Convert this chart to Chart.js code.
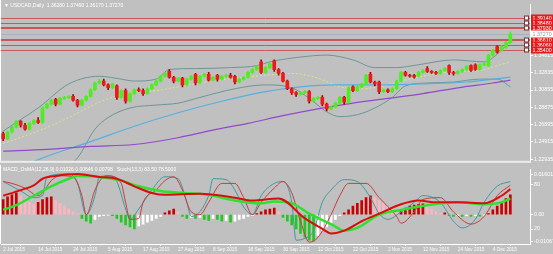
<!DOCTYPE html>
<html>
<head>
<meta charset="utf-8">
<script src="https://cdn.jsdelivr.net/npm/chart.js@4.4.1/dist/chart.umd.min.js"></script>
<style>
  html, body { margin: 0; padding: 0; background: #c0c0c0; }
  body { width: 553px; height: 254px; position: relative; overflow: hidden; }
  canvas { position: absolute; left: 0; }
  #main { top: 0; }
  #osc { top: 165px; }
</style>
</head>
<body>
<canvas id="main" width="553" height="165"></canvas>
<canvas id="osc" width="553" height="89"></canvas>
<script>
// ---- data ----
const symbolTitle = 'USDCAD,Daily';

const opens = [
  1.2583, 1.2528, 1.2605, 1.2660, 1.2726, 1.2682, 1.2638, 1.2704, 1.2737, 1.2715,
  1.2880, 1.2924, 1.2979, 1.2924, 1.2990, 1.3001, 1.3012, 1.2968, 1.2913, 1.2968,
  1.3012, 1.3089, 1.3166, 1.3188, 1.3144, 1.3111, 1.3133, 1.3001, 1.3078, 1.2957,
  1.3045, 1.3089, 1.3078, 1.3045, 1.3100, 1.3144, 1.3188, 1.3243, 1.3298, 1.3232,
  1.3188, 1.3221, 1.3144, 1.3210, 1.3265, 1.3166, 1.3243, 1.3265, 1.3199, 1.3254,
  1.3210, 1.3243, 1.3254, 1.3243, 1.3177, 1.3210, 1.3232, 1.3287, 1.3320, 1.3408,
  1.3287, 1.3342, 1.3419, 1.3320, 1.3276, 1.3188, 1.3100, 1.3056, 1.3034, 1.3056,
  1.3067, 1.2957, 1.2990, 1.3001, 1.2924, 1.2869, 1.2891, 1.2935, 1.3001, 1.2946,
  1.3122, 1.3078, 1.3122, 1.3155, 1.3265, 1.3177, 1.3177, 1.3067, 1.3089, 1.3067,
  1.3100, 1.3188, 1.3287, 1.3254, 1.3254, 1.3243, 1.3287, 1.3331, 1.3298, 1.3287,
  1.3276, 1.3309, 1.3364, 1.3287, 1.3276, 1.3298, 1.3320, 1.3364, 1.3375, 1.3320,
  1.3375, 1.3364, 1.3485, 1.3584, 1.3540, 1.3573, 1.3628
];
const highs = [
  1.2605, 1.2616, 1.2671, 1.2737, 1.2737, 1.2704, 1.2715, 1.2748, 1.2770, 1.2891,
  1.2935, 1.2979, 1.2990, 1.3001, 1.3012, 1.3023, 1.3034, 1.2979, 1.2979, 1.3023,
  1.3100, 1.3177, 1.3210, 1.3210, 1.3155, 1.3166, 1.3144, 1.3089, 1.3100, 1.3056,
  1.3100, 1.3111, 1.3100, 1.3111, 1.3155, 1.3199, 1.3254, 1.3287, 1.3320, 1.3243,
  1.3232, 1.3232, 1.3221, 1.3254, 1.3276, 1.3254, 1.3276, 1.3287, 1.3243, 1.3265,
  1.3254, 1.3265, 1.3276, 1.3254, 1.3221, 1.3243, 1.3298, 1.3331, 1.3364, 1.3430,
  1.3353, 1.3397, 1.3430, 1.3331, 1.3287, 1.3199, 1.3111, 1.3067, 1.3067, 1.3078,
  1.3078, 1.3001, 1.3012, 1.3023, 1.2935, 1.2902, 1.2946, 1.3012, 1.3012, 1.3122,
  1.3133, 1.3133, 1.3166, 1.3265, 1.3287, 1.3188, 1.3188, 1.3100, 1.3100, 1.3111,
  1.3199, 1.3298, 1.3298, 1.3265, 1.3265, 1.3298, 1.3320, 1.3353, 1.3309, 1.3298,
  1.3320, 1.3342, 1.3375, 1.3298, 1.3309, 1.3331, 1.3364, 1.3375, 1.3386, 1.3386,
  1.3397, 1.3496, 1.3551, 1.3595, 1.3595, 1.3639, 1.3749
];
const lows = [
  1.2506, 1.2517, 1.2594, 1.2649, 1.2660, 1.2627, 1.2627, 1.2693, 1.2704, 1.2704,
  1.2869, 1.2913, 1.2902, 1.2913, 1.2979, 1.2990, 1.2957, 1.2891, 1.2902, 1.2957,
  1.3001, 1.3078, 1.3155, 1.3133, 1.3089, 1.3100, 1.2979, 1.2990, 1.2935, 1.2946,
  1.3034, 1.3067, 1.3023, 1.3034, 1.3089, 1.3133, 1.3177, 1.3232, 1.3221, 1.3166,
  1.3177, 1.3122, 1.3133, 1.3199, 1.3144, 1.3155, 1.3232, 1.3188, 1.3188, 1.3188,
  1.3199, 1.3232, 1.3221, 1.3155, 1.3166, 1.3199, 1.3221, 1.3276, 1.3309, 1.3276,
  1.3276, 1.3331, 1.3298, 1.3254, 1.3177, 1.3089, 1.3034, 1.3012, 1.3023, 1.3045,
  1.2935, 1.2946, 1.2979, 1.2902, 1.2847, 1.2858, 1.2880, 1.2924, 1.2924, 1.2935,
  1.3067, 1.3067, 1.3111, 1.3144, 1.3166, 1.3133, 1.3045, 1.3056, 1.3056, 1.3056,
  1.3089, 1.3177, 1.3243, 1.3232, 1.3221, 1.3232, 1.3276, 1.3287, 1.3276, 1.3265,
  1.3265, 1.3298, 1.3265, 1.3254, 1.3265, 1.3287, 1.3309, 1.3298, 1.3309, 1.3309,
  1.3364, 1.3353, 1.3474, 1.3507, 1.3529, 1.3562, 1.3617
];
const closes = [
  1.2528, 1.2605, 1.2660, 1.2726, 1.2682, 1.2638, 1.2704, 1.2737, 1.2715, 1.2880,
  1.2924, 1.2968, 1.2924, 1.2990, 1.3001, 1.3012, 1.2968, 1.2913, 1.2968, 1.3012,
  1.3089, 1.3166, 1.3188, 1.3144, 1.3111, 1.3155, 1.3001, 1.3078, 1.2957, 1.3045,
  1.3089, 1.3078, 1.3045, 1.3100, 1.3144, 1.3188, 1.3243, 1.3276, 1.3232, 1.3188,
  1.3221, 1.3144, 1.3210, 1.3243, 1.3166, 1.3243, 1.3265, 1.3199, 1.3232, 1.3210,
  1.3243, 1.3254, 1.3232, 1.3177, 1.3210, 1.3232, 1.3287, 1.3320, 1.3353, 1.3287,
  1.3342, 1.3386, 1.3320, 1.3276, 1.3188, 1.3100, 1.3056, 1.3034, 1.3056, 1.3067,
  1.2957, 1.2990, 1.3001, 1.2924, 1.2869, 1.2891, 1.2935, 1.3001, 1.2946, 1.3111,
  1.3078, 1.3122, 1.3155, 1.3254, 1.3177, 1.3155, 1.3067, 1.3089, 1.3067, 1.3100,
  1.3188, 1.3287, 1.3254, 1.3243, 1.3232, 1.3287, 1.3309, 1.3298, 1.3287, 1.3276,
  1.3309, 1.3331, 1.3287, 1.3276, 1.3298, 1.3320, 1.3353, 1.3309, 1.3320, 1.3375,
  1.3386, 1.3485, 1.3540, 1.3518, 1.3584, 1.3628, 1.3727
];

// indicator lines, [bar index, value] read at intervals
const bbUpper = [[0,1.2616],[4,1.2748],[8,1.2880],[15,1.3155],[22,1.3243],[27,1.3210],[30,1.3188],[35,1.3210],[38,1.3320],[44,1.3331],[52,1.3342],[58,1.3364],[61,1.3408],[68,1.3463],[74,1.3485],[80,1.3430],[85,1.3342],[90,1.3342],[95,1.3375],[103,1.3430],[110,1.3408],[113,1.3496],[116,1.3650]];
const bbMiddle = [[0,1.2473],[8,1.2616],[15,1.2770],[22,1.2946],[29,1.3056],[35,1.3078],[40,1.3122],[45,1.3166],[53,1.3221],[60,1.3254],[66,1.3276],[72,1.3221],[77,1.3122],[81,1.3100],[86,1.3122],[91,1.3188],[97,1.3254],[103,1.3298],[109,1.3309],[113,1.3364],[116,1.3408]];
const bbLower = [[0,1.1978],[8,1.2033],[14,1.2176],[17,1.2308],[21,1.2638],[24,1.2770],[29,1.2880],[35,1.2913],[40,1.2935],[45,1.3001],[53,1.3100],[60,1.3144],[66,1.3111],[70,1.2990],[74,1.2836],[77,1.2781],[81,1.2803],[85,1.2880],[89,1.3001],[92,1.3133],[97,1.3166],[103,1.3177],[109,1.3210],[113,1.3210],[116,1.3122]];
const blueMa = [[0,1.2110],[9,1.2308],[20,1.2495],[30,1.2671],[40,1.2825],[50,1.2957],[60,1.3067],[68,1.3122],[76,1.3144],[86,1.3144],[96,1.3155],[106,1.3177],[116,1.3232]];
const purpleMa = [[0,1.2385],[10,1.2407],[20,1.2440],[30,1.2462],[40,1.2539],[48,1.2627],[56,1.2704],[64,1.2792],[72,1.2869],[80,1.2935],[88,1.2990],[96,1.3045],[104,1.3111],[112,1.3166],[116,1.3199]];

const levelPrices = [1.3914, 1.3848, 1.3793, 1.3661, 1.3606, 1.3540];
const priceTicks = [1.34815, 1.32835, 1.30855, 1.28875, 1.26895, 1.24915, 1.22935];

// oscillator window
const osma = [
  0.00608, 0.00722, 0.00798, 0.00874, 0.00760, 0.00608, 0.00494, 0.00418, 0.00494, 0.00608,
  0.00684, 0.00722, 0.00570, 0.00456, 0.00342, 0.00228, 0.00114, 0.00038, -0.00152, -0.00266,
  -0.00342, -0.00190, -0.00076, -0.00038, -0.00019, -0.00038, -0.00152, -0.00304, -0.00418, -0.00494,
  -0.00570, -0.00456, -0.00380, -0.00304, -0.00228, -0.00152, -0.00076, 0.00076, 0.00152, 0.00228,
  0.00114, -0.00076, -0.00152, -0.00114, -0.00152, -0.00114, -0.00190, -0.00228, -0.00152, -0.00190,
  -0.00266, -0.00228, -0.00304, -0.00266, -0.00190, -0.00152, -0.00076, -0.00038, 0.00038, 0.00114,
  0.00190, 0.00228, 0.00266, 0.00114, -0.00114, -0.00266, -0.00418, -0.00570, -0.00760, -0.00912,
  -0.01026, -0.01064, -0.00836, -0.00646, -0.00494, -0.00342, -0.00190, -0.00038, 0.00076, 0.00190,
  0.00342, 0.00456, 0.00570, 0.00684, 0.00760, 0.00684, 0.00570, 0.00456, 0.00304, 0.00190,
  0.00076, 0.00152, 0.00266, 0.00342, 0.00380, 0.00418, 0.00437, 0.00342, 0.00228, 0.00114,
  0.00038, 0.00076, -0.00038, -0.00076, -0.00038, -0.00076, -0.00038, -0.00076, -0.00038, -0.00057,
  -0.00019, 0.00038, 0.00190, 0.00342, 0.00494, 0.00646, 0.00798
];
const macdLine = [[0,0.00760],[4,0.00988],[7,0.01178],[9,0.01444],[12,0.01558],[17,0.01634],[22,0.01520],[26,0.01444],[30,0.01140],[34,0.00874],[37,0.00798],[45,0.00836],[53,0.00684],[57,0.00570],[63,0.00646],[69,-0.00152],[73,-0.00570],[75,-0.00760],[78,-0.00646],[82,-0.00266],[86,0.00038],[91,0.00418],[95,0.00570],[99,0.00494],[104,0.00494],[110,0.00456],[114,0.00760],[116,0.01026]];
const signalLine = [[0,0.00190],[3,0.00380],[7,0.00760],[11,0.01140],[15,0.01444],[17,0.01558],[22,0.01520],[27,0.01368],[31,0.01140],[36,0.00950],[41,0.00874],[47,0.00798],[53,0.00570],[59,0.00456],[62,0.00532],[66,0.00456],[70,0.00038],[75,-0.00380],[78,-0.00646],[81,-0.00532],[86,0.00000],[91,0.00190],[97,0.00380],[104,0.00494],[110,0.00418],[114,0.00494],[116,0.00646]];
const stochK = [[0,83.5],[4,70.9],[7,62.0],[9,64.6],[10,89.9],[15,93.7],[17,81.0],[19,39.2],[21,64.6],[22,89.9],[24,91.1],[26,83.5],[28,46.8],[29,32.9],[31,46.8],[34,72.2],[37,89.9],[40,87.3],[42,55.7],[43,36.7],[47,64.6],[48,87.3],[51,86.1],[53,72.2],[55,49.4],[57,39.2],[59,64.6],[62,81.0],[64,83.5],[66,55.7],[67,5.1],[69,7.6],[71,17.7],[73,55.7],[75,72.2],[78,86.1],[81,83.5],[84,62.0],[86,40.5],[88,32.9],[91,43.0],[94,55.7],[96,64.6],[100,55.7],[103,30.4],[105,21.5],[108,32.9],[110,55.7],[113,77.2],[116,83.5]];
const stochD = [[0,83.5],[2,81.0],[5,74.7],[8,64.6],[9,68.4],[11,84.8],[13,91.1],[16,89.9],[18,64.6],[19,39.2],[21,72.2],[23,89.9],[24,91.1],[27,81.0],[28,55.7],[29,32.9],[31,34.2],[32,55.7],[35,72.2],[37,84.8],[39,89.9],[41,72.2],[43,43.0],[45,39.2],[47,55.7],[50,81.0],[53,81.0],[55,62.0],[57,39.2],[59,55.7],[62,74.7],[64,83.5],[66,68.4],[68,30.4],[70,2.5],[72,8.9],[75,39.2],[77,64.6],[79,81.0],[83,81.0],[86,62.0],[90,36.7],[91,27.8],[94,43.0],[96,59.5],[100,62.0],[103,43.0],[107,26.6],[110,36.7],[113,64.6],[116,78.5]];
const stochLevels = [80, 20];
const macdTicks = [0.016014, 0, -0.010676];

const tickBars = [0, 8, 16, 24, 32, 40, 48, 56, 64, 72, 80, 88, 96, 104, 112];
const tickDates = ['2 Jul 2015', '14 Jul 2015', '24 Jul 2015', '5 Aug 2015', '17 Aug 2015', '27 Aug 2015',
  '8 Sep 2015', '18 Sep 2015', '30 Sep 2015', '12 Oct 2015', '22 Oct 2015', '2 Nov 2015',
  '12 Nov 2015', '24 Nov 2015', '4 Dec 2015'];

// ---- layout / style ----
const PRICE_MAX = 1.4068, PRICE_MIN = 1.2275;
const MACD_MAX = 0.018302, MACD_MIN = -0.011820;
const AXIS_W = 23;
const FAMILY = 'Liberation Sans';
const AXIS_FONT = { family: FAMILY, size: 5.3 };
const DATE_FONT = { family: FAMILY, size: 4.7 };
const TITLE_SIZE = 5;
const UP = '#4cee22', DOWN = '#f01818', DOWN_WICK = '#a00000';
const LEVEL_COLOR = '#c8565a';
const LEVEL_WIDTHS = [1, 1, 2, 2, 1, 1];

Chart.defaults.font.family = FAMILY;

const nBars = closes.length;
const cats = Array.from({ length: nBars + 4 }, (_, i) => i);
function sparse(pairs) {
  const s = new Array(cats.length).fill(null);
  pairs.forEach(function(p) { s[p[0]] = p[1]; });
  return s;
}
function lastOf(pairs) { return pairs[pairs.length - 1][1]; }

const isUp = closes.map(function(c, i) { return c >= opens[i]; });
const bodies = opens.map(function(o, i) { return [o, closes[i]]; });
const wicks = lows.map(function(l, i) { return [l, highs[i]]; });
const bid = closes[nBars - 1];

function lineSet(pairs, color, width, extra) {
  return Object.assign({
    type: 'line', data: sparse(pairs), borderColor: color, borderWidth: width,
    pointRadius: 0, spanGaps: true, cubicInterpolationMode: 'monotone', order: 5
  }, extra || {});
}

function priceBox(ctx, x, y, text, fill, color) {
  ctx.fillStyle = fill;
  ctx.fillRect(x, Math.round(y) - 3.5, AXIS_W, 7);
  ctx.fillStyle = color;
  ctx.font = AXIS_FONT.size + 'px ' + FAMILY;
  ctx.textBaseline = 'middle';
  ctx.textAlign = 'left';
  ctx.fillText(text, x + 1.5, Math.round(y) + 0.5);
}

const mainDecor = {
  id: 'mainDecor',
  beforeDatasetsDraw(chart) {
    const ctx = chart.ctx, a = chart.chartArea, y = chart.scales.y;
    ctx.save();
    levelPrices.forEach(function(p, k) {
      const py = Math.round(y.getPixelForValue(p)) + (LEVEL_WIDTHS[k] === 1 ? 0.5 : 0);
      ctx.strokeStyle = LEVEL_COLOR;
      ctx.lineWidth = LEVEL_WIDTHS[k];
      ctx.beginPath(); ctx.moveTo(a.left, py); ctx.lineTo(a.right, py); ctx.stroke();
    });
    const by = Math.round(y.getPixelForValue(bid)) + 0.5;
    ctx.strokeStyle = '#a8b0bc'; ctx.lineWidth = 1;
    ctx.beginPath(); ctx.moveTo(a.left, by); ctx.lineTo(a.right, by); ctx.stroke();
    ctx.restore();
  },
  afterDraw(chart) {
    const ctx = chart.ctx, a = chart.chartArea, y = chart.scales.y;
    ctx.save();
    levelPrices.forEach(function(p) {
      const py = y.getPixelForValue(p);
      ctx.fillStyle = '#ffffff'; ctx.strokeStyle = '#803030'; ctx.lineWidth = 1;
      ctx.fillRect(a.right - 5, Math.round(py) - 1.5, 3, 3);
      ctx.strokeRect(a.right - 5.5, Math.round(py) - 2, 4, 4);
      priceBox(ctx, a.right + 1, py, p.toFixed(5), '#e41a1a', '#ffffff');
    });
    priceBox(ctx, a.right + 1, y.getPixelForValue(bid), bid.toFixed(5), '#ffffff', '#9a9a9a');
    // title
    const last = nBars - 1;
    const title = '\u25BC ' + symbolTitle + '  ' +
      [opens[last], highs[last], lows[last], closes[last]].map(function(v) { return v.toFixed(5); }).join(' ');
    ctx.fillStyle = '#ffffff';
    ctx.font = TITLE_SIZE + 'px ' + FAMILY;
    ctx.textBaseline = 'middle'; ctx.textAlign = 'left';
    ctx.fillText(title, 4, 6);
    // frame
    ctx.fillStyle = '#ffffff';
    ctx.fillRect(0, 0, 1, a.bottom);
    ctx.fillStyle = '#ececec';
    ctx.fillRect(0, a.bottom, a.right + 1, 2);
    ctx.restore();
  }
};

new Chart(document.getElementById('main'), {
  type: 'bar',
  data: {
    labels: cats,
    datasets: [
      lineSet(purpleMa, '#9448cc', 1.2),
      lineSet(blueMa, '#55b0e2', 1.2),
      lineSet(bbLower, '#6c9696', 1),
      lineSet(bbUpper, '#6c9696', 1),
      lineSet(bbMiddle, '#d6ea80', 1, { borderDash: [2, 2] }),
      { data: wicks, backgroundColor: isUp.map(function(u) { return u ? UP : DOWN_WICK; }),
        barThickness: 1, grouped: false, order: 2 },
      { data: bodies, backgroundColor: isUp.map(function(u) { return u ? UP : DOWN; }),
        barThickness: 3, minBarLength: 1, grouped: false, order: 1 }
    ]
  },
  options: {
    responsive: false, animation: false, events: [], devicePixelRatio: 1,
    layout: { padding: { left: 1, right: 0, top: 0, bottom: 2 }, autoPadding: false },
    plugins: { legend: { display: false }, tooltip: { enabled: false } },
    scales: {
      x: { type: 'category', offset: true, display: false },
      y: {
        position: 'right', min: PRICE_MIN, max: PRICE_MAX,
        afterFit: function(s) { s.width = AXIS_W; },
        afterBuildTicks: function(s) { s.ticks = priceTicks.map(function(v) { return { value: v }; }); },
        ticks: { color: '#ffffff', font: AXIS_FONT, padding: 1, callback: function(v) { return v.toFixed(5); } },
        grid: { drawOnChartArea: false, color: '#ffffff', tickLength: 3 },
        border: { color: '#ffffff', width: 1 }
      }
    }
  },
  plugins: [mainDecor]
});

// oscillator panel
const osmaColors = osma.map(function(v, i) {
  const prev = i > 0 ? osma[i - 1] : v;
  if (v >= 0) return v >= prev ? '#c80000' : '#ffb4c0';
  return v < prev ? '#22c822' : '#ffffff';
});
const oscTickValues = [
  macdTicks[0],
  MACD_MIN + stochLevels[0] / 100 * (MACD_MAX - MACD_MIN),
  macdTicks[1],
  MACD_MIN + stochLevels[1] / 100 * (MACD_MAX - MACD_MIN),
  macdTicks[2]
];
const oscTickLabels = [macdTicks[0].toFixed(6), String(stochLevels[0]), '0.00', String(stochLevels[1]), macdTicks[2].toFixed(6)];

const oscDecor = {
  id: 'oscDecor',
  afterDraw(chart) {
    const ctx = chart.ctx, a = chart.chartArea;
    ctx.save();
    const title = 'MACD_OsMA(12,26,9) ' + lastOf(macdLine).toFixed(5) + ' ' + lastOf(signalLine).toFixed(5) + ' ' +
      osma[nBars - 1].toFixed(5) + '   Stoch(13,3) ' + lastOf(stochK).toFixed(2) + ' ' + lastOf(stochD).toFixed(4);
    ctx.fillStyle = '#ffffff';
    ctx.font = TITLE_SIZE + 'px ' + FAMILY;
    ctx.textBaseline = 'middle'; ctx.textAlign = 'left';
    ctx.fillText(title, 3, 5);
    ctx.fillRect(0, 0, 1, a.bottom);
    ctx.restore();
  }
};

new Chart(document.getElementById('osc'), {
  type: 'bar',
  data: {
    labels: cats,
    datasets: [
      { data: osma, backgroundColor: osmaColors, barThickness: 2, grouped: false, yAxisID: 'y', order: 6 },
      lineSet(stochK, '#3c9aa2', 1, { yAxisID: 'ys', order: 4 }),
      lineSet(stochD, '#cc3a3a', 1, { yAxisID: 'ys', order: 3 }),
      lineSet(signalLine, '#30e030', 2.5, { yAxisID: 'y', order: 2 }),
      lineSet(macdLine, '#d80e0e', 2, { yAxisID: 'y', order: 1 })
    ]
  },
  options: {
    responsive: false, animation: false, events: [], devicePixelRatio: 1,
    layout: { padding: { left: 1, right: 0, top: 0, bottom: 0 }, autoPadding: false },
    plugins: { legend: { display: false }, tooltip: { enabled: false } },
    scales: {
      x: {
        type: 'category', offset: true,
        afterFit: function(s) { s.height = 10; },
        afterBuildTicks: function(s) { s.ticks = tickBars.map(function(v) { return { value: v }; }); },
        ticks: { color: '#ffffff', font: DATE_FONT, align: 'start', padding: 1, maxRotation: 0, autoSkip: false,
                 callback: function(v, i) { return tickDates[i]; } },
        grid: { drawOnChartArea: false, color: '#ffffff', tickLength: 2 },
        border: { color: '#ffffff', width: 1 }
      },
      y: {
        position: 'right', min: MACD_MIN, max: MACD_MAX,
        afterFit: function(s) { s.width = AXIS_W; },
        afterBuildTicks: function(s) { s.ticks = oscTickValues.map(function(v) { return { value: v }; }); },
        ticks: { color: '#ffffff', font: AXIS_FONT, padding: 1, callback: function(v, i) { return oscTickLabels[i]; } },
        grid: { drawOnChartArea: false, color: '#ffffff', tickLength: 3 },
        border: { color: '#ffffff', width: 1 }
      },
      ys: { display: false, min: 0, max: 100 }
    }
  },
  plugins: [oscDecor]
});
</script>
</body>
</html>
